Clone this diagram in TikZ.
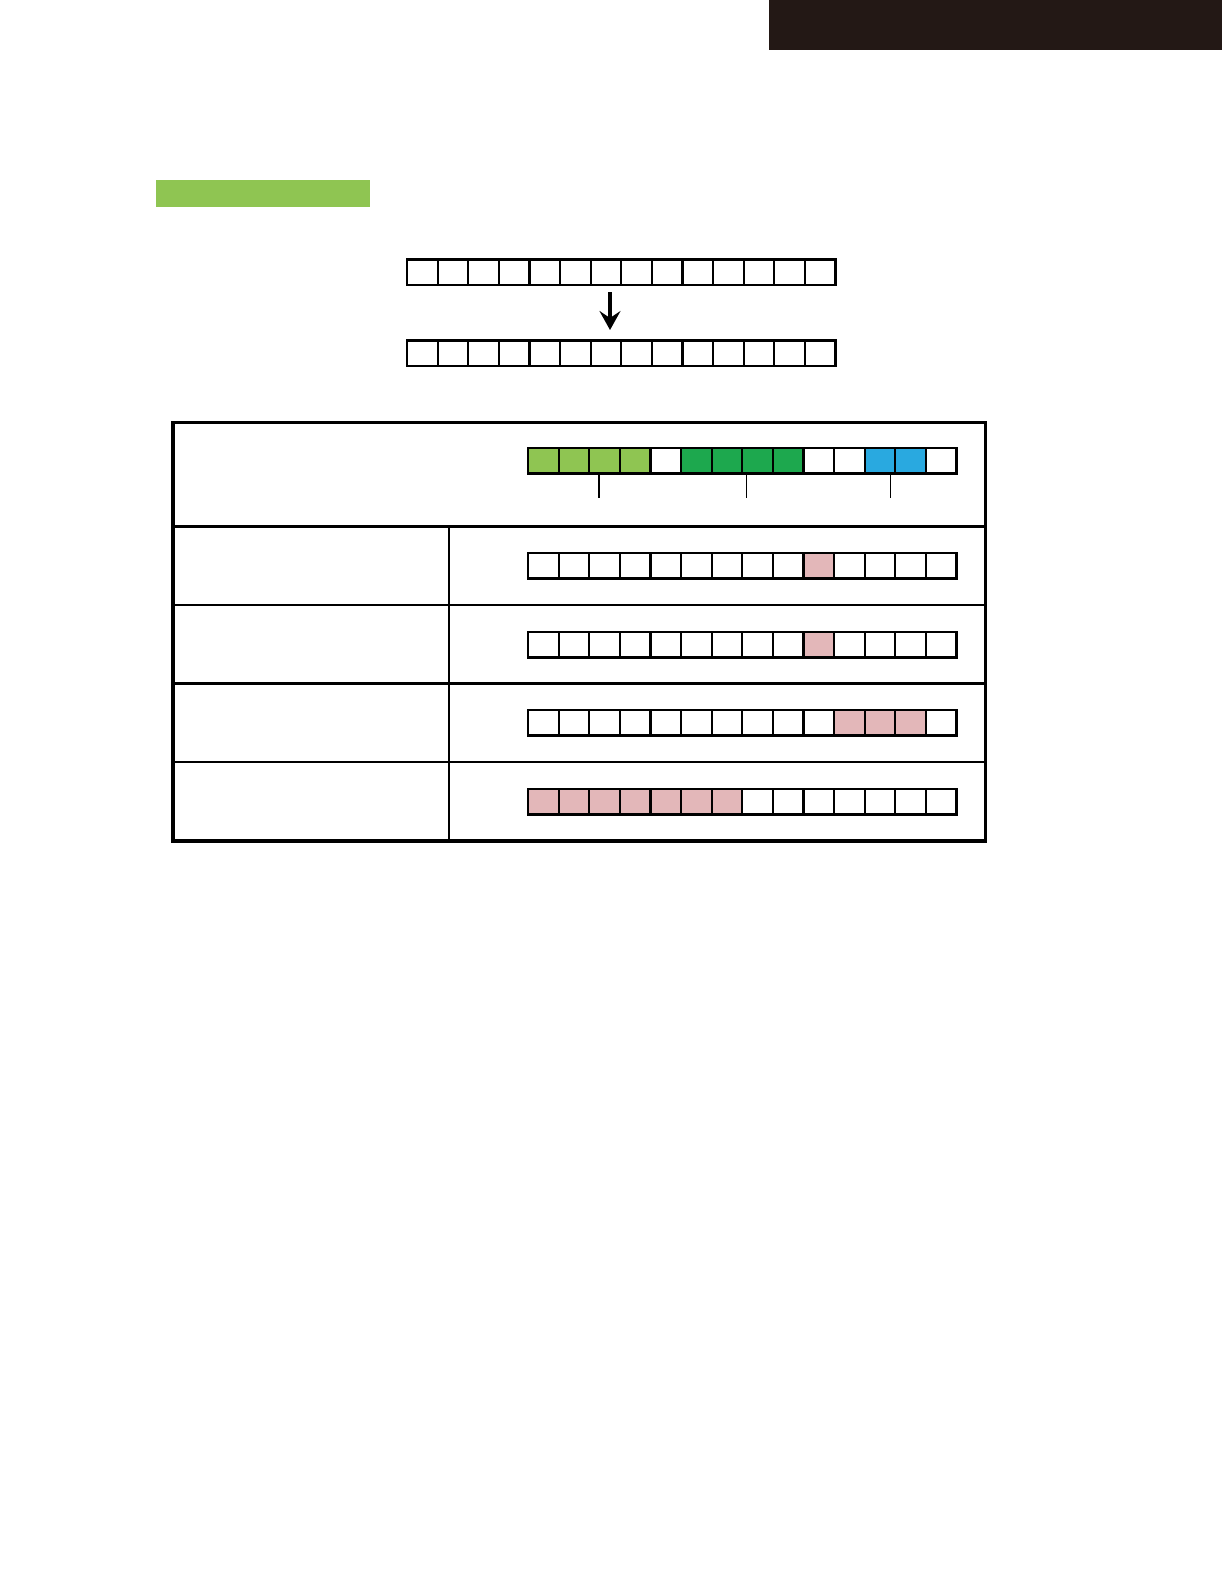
\documentclass[tikz,border=0pt]{standalone}
\usetikzlibrary{arrows.meta}
\definecolor{lgreen}{HTML}{8FC552}
\definecolor{dgreen}{HTML}{1DA84E}
\definecolor{cblue}{HTML}{29A9E0}
\definecolor{cpink}{HTML}{E3B7B9}
\definecolor{barblack}{HTML}{231815}
\begin{document}
\begin{tikzpicture}[x=1pt,y=-1pt,
  cell/.style={draw=black, line width=2.2pt, minimum width=30.6pt, minimum height=25.5pt,
    inner sep=0pt, outer sep=0pt, anchor=north west},
  tick/.style={draw=black, line width=1.1pt},
  sep/.style={draw=black, line width=2.7pt},
  thinsep/.style={draw=black, line width=1.5pt}]
\useasboundingbox (0,0) rectangle (1224,1584);
\fill[white] (0,0) rectangle (1224,1584);
% header bars
\fill[barblack] (769,0) rectangle (1222,50);
\fill[lgreen] (156,180) rectangle (370,207);
% top arrays
\foreach \i in {0,...,13} {
  \node[cell, fill=white] (t-\i) at (407+30.6*\i,259.5) {};
  \node[cell, fill=white] (b-\i) at (407+30.6*\i,340.5) {};
}
\coordinate (arrS) at (610,292);
\coordinate (arrE) at (610,330);
\draw[line width=4.2pt, -{Stealth[length=19pt,width=21pt,inset=7pt]}] (arrS) -- (arrE);
% table
\draw[line width=3.2pt] (173,422.5) rectangle (985.5,841);
\draw[sep] (173,526.5) -- (985.5,526.5);
\draw[sep] (173,605) -- (985.5,605);
\draw[sep] (173,683.5) -- (985.5,683.5);
\draw[thinsep] (173,762) -- (985.5,762);
\draw[draw=black, line width=1.3pt] (449,526.5) -- (449,841);
% table arrays
\foreach \c [count=\i from 0] in {lgreen,lgreen,lgreen,lgreen,white,dgreen,dgreen,dgreen,dgreen,white,white,cblue,cblue,white}
  \node[cell, fill=\c] (ra-\i) at (528+30.6*\i,448) {};
\foreach \c [count=\i from 0] in {white,white,white,white,white,white,white,white,white,cpink,white,white,white,white}
  \node[cell, fill=\c] (rb-\i) at (528+30.6*\i,553) {};
\foreach \c [count=\i from 0] in {white,white,white,white,white,white,white,white,white,cpink,white,white,white,white}
  \node[cell, fill=\c] (rc-\i) at (528+30.6*\i,632) {};
\foreach \c [count=\i from 0] in {white,white,white,white,white,white,white,white,white,white,cpink,cpink,cpink,white}
  \node[cell, fill=\c] (rd-\i) at (528+30.6*\i,710) {};
\foreach \c [count=\i from 0] in {cpink,cpink,cpink,cpink,cpink,cpink,cpink,white,white,white,white,white,white,white}
  \node[cell, fill=\c] (re-\i) at (528+30.6*\i,789) {};
% ticks under the coloured groups
\coordinate (k1a) at (599,474.5); \coordinate (k1b) at (599,498);
\coordinate (k2a) at (746.5,474.5); \coordinate (k2b) at (746.5,498);
\coordinate (k3a) at (890.5,474.5); \coordinate (k3b) at (890.5,498);
\draw[tick, line width=2pt] (k1a) -- (k1b);
\draw[tick] (k2a) -- (k2b);
\draw[tick] (k3a) -- (k3b);
\end{tikzpicture}
\end{document}
